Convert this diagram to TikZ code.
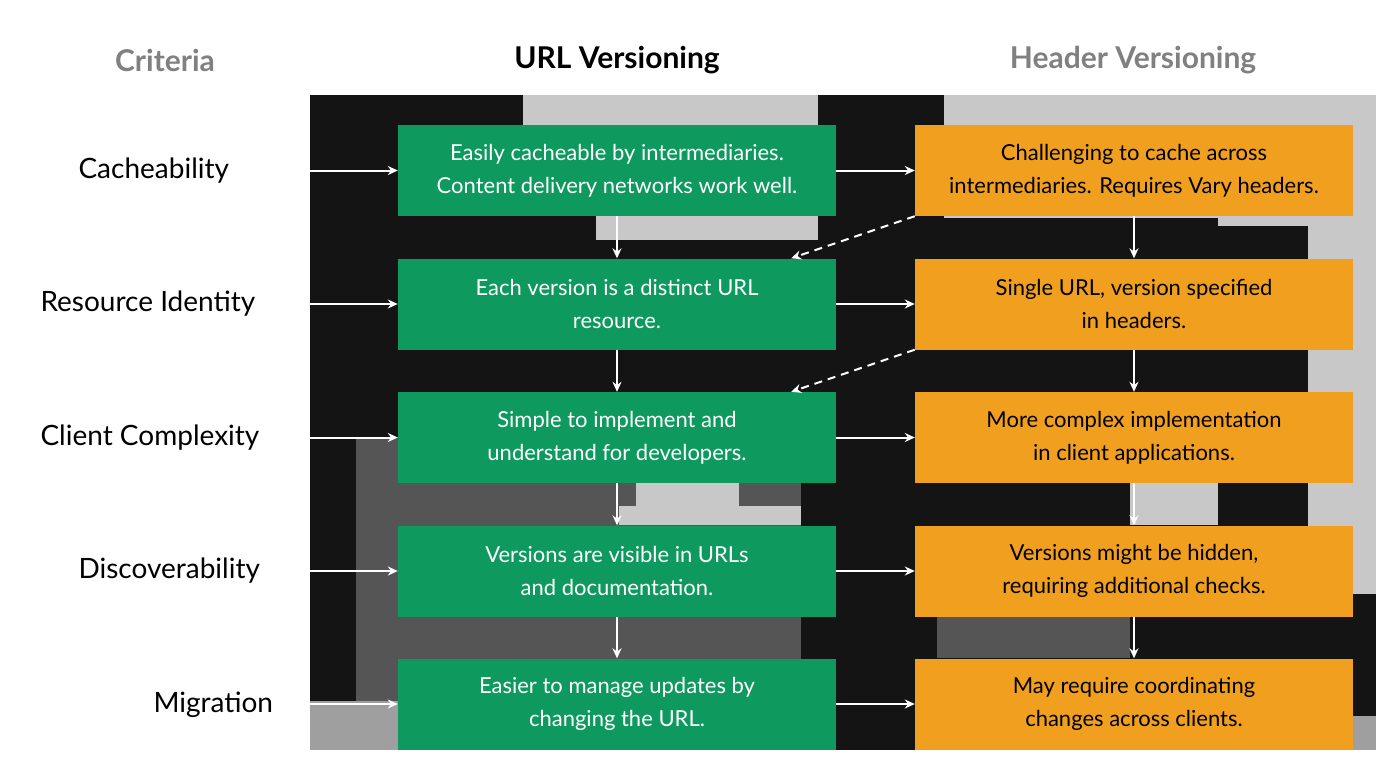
\documentclass[tikz,border=0pt]{standalone}
\usepackage{fontspec}
\setmainfont{Lato}
\usetikzlibrary{arrows.meta}
\definecolor{gn}{HTML}{0E9A5E}
\definecolor{org}{HTML}{F0A01E}
\definecolor{lg}{HTML}{C8C8C8}
\definecolor{dg}{HTML}{555555}
\definecolor{bk}{HTML}{141414}
\begin{document}
\begin{tikzpicture}[x=1pt,y=-1pt,
  box/.style={minimum width=438pt,minimum height=91pt,inner sep=0pt,align=center,font=\fontsize{22}{33}\selectfont},
  g/.style={box,fill=gn,text=white},
  o/.style={box,fill=org,text=black},
  crit/.style={anchor=west,font=\fontsize{28}{34}\selectfont},
  hd/.style={font=\bfseries\fontsize{30}{36}\selectfont},
  ar/.style={white,line width=2pt,-{Stealth[length=10pt,width=9pt]}},
  da/.style={ar,dashed,dash pattern=on 8pt off 6pt}]
\fill[white] (0,0) rectangle (1376,768);
\useasboundingbox (0,0) rectangle (1376,768);
% background patches
\fill[bk] (310,95) rectangle (1376,750);
\fill[lg] (523,95) rectangle (818,125);
\fill[lg] (944,95) rectangle (1376,218);
\fill[lg] (1218,218) rectangle (1376,226);
\fill[lg] (1308,226) rectangle (1376,594);
\fill[lg] (596,216) rectangle (818,240);
\fill[dg] (356,437) rectangle (398,701);
\fill[gray!75] (310,701) rectangle (398,750);
\fill[dg] (398,483) rectangle (801,750);
\fill[lg] (636,483) rectangle (739,506);
\fill[lg] (619,506) rectangle (801,525);
\fill[dg] (937,617) rectangle (1130,658);
\fill[lg] (1130,483) rectangle (1218,525);
\fill[gray!75] (1353,716) rectangle (1376,750);
% headers
\node[hd,text=gray] at (165,60) {Criteria};
\node[hd,text=black] at (617,60) {URL Versioning};
\node[hd,text=gray] at (1133,60) {Header Versioning};
% criteria
\node[crit] (c1) at (75,171) {Cacheability};
\node[crit] (c2) at (37,304) {Resource Identity};
\node[crit] (c3) at (37,438) {Client Complexity};
\node[crit] (c4) at (75,571) {Discoverability};
\node[crit] (c5) at (150,705) {Migration};
% boxes
\node[g] (g1) at (617,170.5) {Easily cacheable by intermediaries.\\Content delivery networks work well.};
\node[g] (g2) at (617,304) {Each version is a distinct URL\\resource.};
\node[g] (g3) at (617,437.5) {Simple to implement and\\understand for developers.};
\node[g] (g4) at (617,571) {Versions are visible in URLs\\and documentation.};
\node[g] (g5) at (617,704) {Easier to manage updates by\\changing the URL.};
\node[o] (o1) at (1134,170.5) {Challenging to cache across\\intermediaries. Requires Vary headers.};
\node[o] (o2) at (1134,304) {Single URL, version specified\\in headers.};
\node[o] (o3) at (1134,437.5) {More complex implementation\\in client applications.};
\node[o] (o4) at (1134,571) {Versions might be hidden,\\requiring additional checks.};
\node[o] (o5) at (1134,704) {May require coordinating\\changes across clients.};
% arrows
\foreach \i in {1,...,5}{
  \coordinate (s\i) at (310,0 |- g\i);
  \draw[ar] (s\i) -- (g\i.west);
  \draw[ar] (g\i.east) -- (o\i.west);
}
\foreach \i/\j in {1/2,2/3,3/4,4/5}{
  \draw[ar] (g\i.south) -- (g\j.north);
  \draw[ar] (o\i.south) -- (o\j.north);
}
\draw[da] (o1.south west) -- ([xshift=-45pt]g2.north east);
\draw[da] (o2.south west) -- ([xshift=-45pt]g3.north east);
\end{tikzpicture}
\end{document}
